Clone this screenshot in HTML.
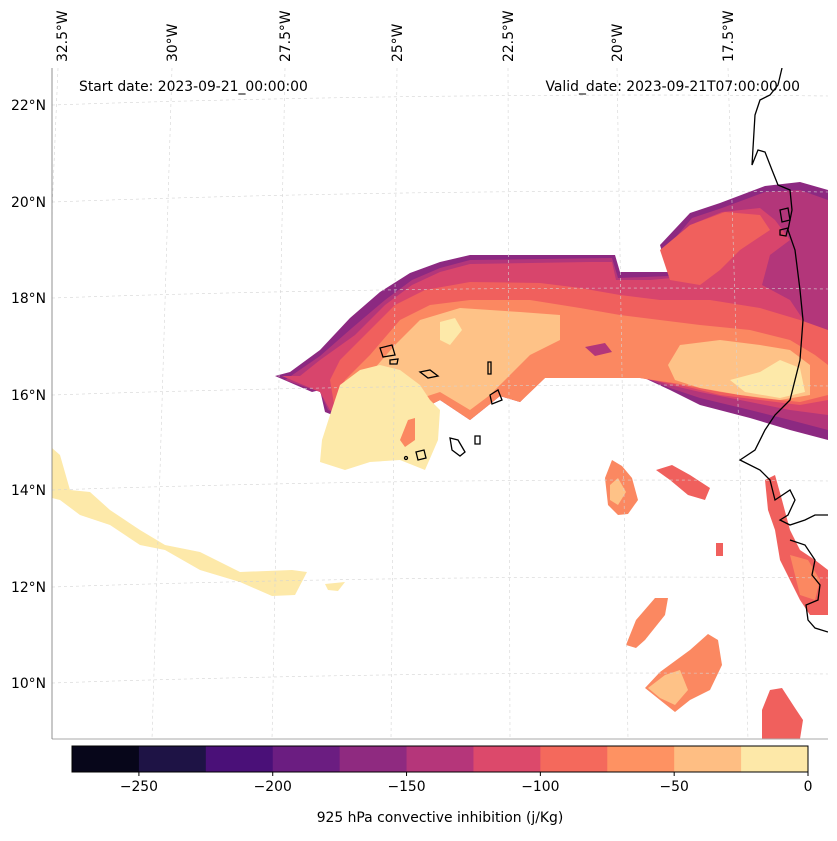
<!DOCTYPE html>
<html><head><meta charset="utf-8"><style>
body{margin:0;background:#fff;font-family:"Liberation Sans","DejaVu Sans",sans-serif}
svg text{font-family:"DejaVu Sans","Liberation Sans",sans-serif;font-size:13.9px;fill:#000}
</style></head><body>
<svg id="chart" width="837" height="836" viewBox="0 0 837 836">
<defs><clipPath id="mapclip"><rect x="52" y="68" width="776" height="671"/></clipPath></defs>
<g clip-path="url(#mapclip)">
<polygon fill="#8c2981" points="275,376 290,372 320,350 350,318 380,292 410,273 440,262 470,255 615,255 620,272 668,272 660,245 690,213 720,203 765,186 800,182 828,190 828,440 790,430 750,418 700,405 670,390 640,376 545,376 520,402 500,396 470,420 440,400 400,420 370,430 325,412 320,390 312,392"/>
<polygon fill="#b3367a" points="285,380 320,356 352,328 385,300 412,280 440,268 470,260 612,258 618,278 670,276 665,250 692,218 722,208 765,192 800,190 828,200 828,430 790,420 750,410 700,398 670,388 640,376 545,376 520,400 500,394 470,418 440,398 400,418 370,428 328,410 320,392"/>
<polygon fill="#d8456c" points="282,376 300,376 320,360 355,335 385,305 412,285 440,272 470,264 590,262 612,262 616,280 650,280 672,278 668,255 695,223 722,212 760,208 775,220 790,240 770,255 762,285 790,300 810,330 828,330 828,415 790,410 750,402 700,392 670,385 640,376 545,376 520,400 500,394 470,418 440,398 400,418 370,428 330,410 320,392"/>
<polygon fill="#f0605d" points="330,380 340,360 365,335 395,305 425,290 470,282 540,283 580,288 620,295 660,300 710,300 760,308 800,320 828,330 828,400 800,405 760,400 720,395 680,385 640,378 545,378 520,402 500,396 470,420 440,400 400,420 370,428 335,410"/>
<polygon fill="#f0605d" points="660,250 690,225 725,212 760,215 770,230 740,250 720,270 700,285 670,280"/>
<polygon fill="#fb8861" points="335,405 345,380 370,355 400,320 430,305 470,300 530,300 580,308 620,315 660,320 700,325 750,330 790,340 815,355 828,365 828,395 800,402 760,398 720,392 680,384 640,378 545,378 520,402 500,396 470,420 440,400 400,420 370,428"/>
<polygon fill="#fec287" points="340,405 360,385 395,345 420,320 460,308 520,312 560,315 560,340 530,355 510,375 490,395 470,410 440,392 400,405 370,420"/>
<polygon fill="#fec287" points="668,365 680,345 720,340 760,345 790,350 810,365 810,395 780,400 740,395 700,388 675,380"/>
<polygon fill="#fde9a9" points="730,380 760,372 780,360 800,368 805,392 780,398 745,392"/>
<polygon fill="#fde9a9" points="440,322 455,318 462,330 450,345 440,340"/>
<polygon fill="#b3367a" points="585,347 605,343 612,352 595,356"/>
<polygon fill="#fde9a9" points="330,415 340,385 360,370 380,365 400,370 420,385 430,400 440,410 438,440 425,470 400,460 370,462 345,470 320,462 322,440"/>
<polygon fill="#fb8861" points="400,440 408,420 415,418 415,440 405,447"/>
<polygon fill="#fde9a9" points="52,448 60,455 70,490 90,492 110,510 140,530 165,545 200,552 240,572 292,570 307,572 295,595 272,596 240,582 200,570 165,550 140,545 110,525 80,515 60,500 52,498"/>
<polygon fill="#fde9a9" points="325,584 345,582 338,591 328,590"/>
<polygon fill="#fb8861" points="605,478 612,460 622,466 632,478 638,500 628,514 618,515 608,505"/>
<polygon fill="#fec287" points="610,485 618,478 626,492 618,505 610,500"/>
<polygon fill="#f0605d" points="656,470 672,465 690,475 710,488 705,500 688,495 670,480"/>
<polygon fill="#fb8861" points="626,645 636,620 655,598 668,598 665,615 645,640 636,648"/>
<polygon fill="#fb8861" points="645,688 660,672 690,650 708,634 718,640 722,665 710,690 690,700 675,712 660,700"/>
<polygon fill="#fec287" points="648,688 665,675 680,670 688,690 675,705 660,698"/>
<polygon fill="#f0605d" points="762,710 770,690 782,688 795,708 803,720 800,739 762,739"/>
<polygon fill="#f0605d" points="765,480 775,475 782,500 790,530 800,550 815,560 828,570 828,615 810,615 800,600 790,580 780,560 775,530 768,510"/>
<polygon fill="#fb8861" points="790,555 808,560 820,580 815,600 800,595 795,575"/>
<polygon fill="#f0605d" points="716,543 723,543 723,556 716,556"/>
<g stroke="#d4d4d4" stroke-width="0.6" stroke-dasharray="3,3" fill="none">
<line x1="58" y1="68" x2="30" y2="739"/><line x1="172" y1="68" x2="152" y2="739"/><line x1="285" y1="68" x2="272" y2="739"/>
<line x1="397" y1="68" x2="391" y2="739"/><line x1="508" y1="68" x2="510" y2="739"/><line x1="617" y1="68" x2="628" y2="739"/><line x1="728" y1="68" x2="748" y2="739"/>
<path d="M52,105 Q440,92 828,96"/><path d="M52,202 Q440,188 828,192"/><path d="M52,298 Q440,285 828,289"/><path d="M52,395 Q440,382 828,386"/>
<path d="M52,490 Q440,477 828,481"/><path d="M52,587 Q440,574 828,578"/><path d="M52,683 Q440,670 828,674"/>
</g>
<g stroke="#000" stroke-width="1.3" fill="none">
<path d="M782,68 L778,85 L770,95 L760,100 L755,115 L752,165 L758,150 L765,152 L772,170 L778,185 L790,190 L792,210 L788,230 L795,250 L800,290 L803,320 L800,360 L790,400 L775,415 L765,430 L755,450 L740,460 L760,470 L770,480 L775,500 L790,490 L795,500 L788,515 L780,520 L790,525 L805,520 L815,515 L828,515"/>
<path d="M780,210 L788,208 L790,220 L782,222 Z"/><path d="M780,230 L788,228 L786,236 L780,235 Z"/>
<path d="M790,540 L805,545 L815,560 L812,575 L820,585 L818,600 L806,605 L808,620 L815,628 L828,632"/>
<path d="M380,348 L392,345 L395,355 L383,357 Z"/><path d="M390,360 L398,359 L397,364 L390,364 Z"/>
<path d="M420,372 L430,370 L438,376 L428,378 Z"/><path d="M488,362 L491,362 L491,374 L488,374 Z"/>
<path d="M490,395 L498,390 L502,400 L492,404 Z"/><path d="M450,438 L458,440 L465,452 L460,456 L452,450 Z"/>
<path d="M475,436 L480,436 L480,444 L475,444 Z"/><path d="M416,452 L424,450 L426,458 L418,460 Z"/>
<circle cx="406" cy="458" r="1.5"/>
</g>
</g>
<line x1="52" y1="739" x2="828" y2="739" stroke="#aaa" stroke-width="1"/>
<line x1="52" y1="68" x2="52" y2="739" stroke="#777" stroke-width="0.8"/>
<text x="79" y="91">Start date: 2023-09-21_00:00:00</text>
<text x="800" y="91" text-anchor="end">Valid_date: 2023-09-21T07:00:00.00</text>
<g id="lonlabels"></g>
<g id="latlabels"></g>
<g id="cbar"></g>
<text x="440" y="822" text-anchor="middle">925 hPa convective inhibition (j/Kg)</text>
</svg>
<script>
const lonLabels=["32.5°W","30°W","27.5°W","25°W","22.5°W","20°W","17.5°W"];
const lonPos=[62,172,285,397,508,617,728];
const latLabels=["22°N","20°N","18°N","16°N","14°N","12°N","10°N"];
const latPos=[105,202,298,395,490,587,683];
const binEdges=[-275,-250,-225,-200,-175,-150,-125,-100,-75,-50,-25,0];
const binColors=["#07061a","#1e1345","#4a1078","#6b1d81","#8f2a80","#b5367a","#dc496b","#f4695c","#fe9262","#febe83","#fde8a8"];
const tickVals=[-250,-200,-150,-100,-50,0];
const NS="http://www.w3.org/2000/svg";
const lg=document.getElementById('lonlabels');
lonLabels.forEach((l,i)=>{const t=document.createElementNS(NS,'text');


t.setAttribute('transform',`translate(${lonPos[i]+5},62) rotate(-90)`);t.textContent=l;lg.appendChild(t);});
const la=document.getElementById('latlabels');
latLabels.forEach((l,i)=>{const t=document.createElementNS(NS,'text');


t.setAttribute('x',46);t.setAttribute('y',latPos[i]+5);t.setAttribute('text-anchor','end');t.textContent=l;la.appendChild(t);});
const cb=document.getElementById('cbar');
const cx0=72,cx1=808,cy=746,ch=26;
const sx=v=>cx0+(v-binEdges[0])/(binEdges[binEdges.length-1]-binEdges[0])*(cx1-cx0);
binColors.forEach((c,i)=>{const r=document.createElementNS(NS,'rect');


r.setAttribute('x',sx(binEdges[i]));r.setAttribute('y',cy);r.setAttribute('width',sx(binEdges[i+1])-sx(binEdges[i])+0.5);r.setAttribute('height',ch);r.setAttribute('fill',c);cb.appendChild(r);});
const fr=document.createElementNS(NS,'rect');


fr.setAttribute('x',cx0);fr.setAttribute('y',cy);fr.setAttribute('width',cx1-cx0);fr.setAttribute('height',ch);fr.setAttribute('fill','none');fr.setAttribute('stroke','#000');cb.appendChild(fr);
tickVals.forEach(v=>{const ln=document.createElementNS(NS,'line');


ln.setAttribute('x1',sx(v));ln.setAttribute('x2',sx(v));ln.setAttribute('y1',cy+ch);ln.setAttribute('y2',cy+ch+4);ln.setAttribute('stroke','#000');cb.appendChild(ln);
const t=document.createElementNS(NS,'text');


t.setAttribute('x',sx(v));t.setAttribute('y',cy+ch+19);t.setAttribute('text-anchor','middle');t.textContent=v<0?'\u2212'+Math.abs(v):String(v);cb.appendChild(t);});
</script>
</body></html>
